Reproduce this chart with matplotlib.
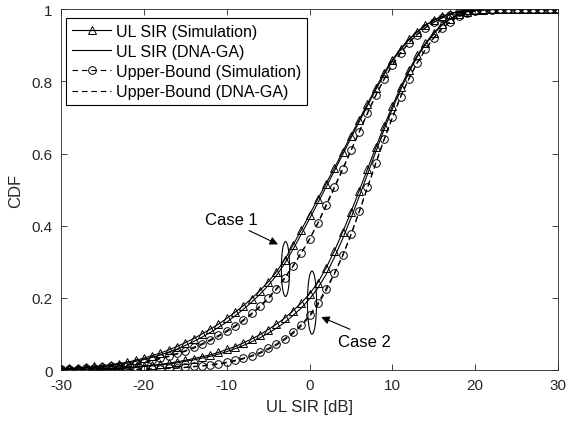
import matplotlib.pyplot as plt
import numpy as np
from matplotlib.patches import Ellipse

plt.rcParams['font.family'] = ['Liberation Sans', 'DejaVu Sans']
plt.rcParams['font.size'] = 10
plt.rcParams['axes.unicode_minus'] = False

# x axis: UL SIR in dB, one sample per dB
sir_db = np.arange(-30, 31)

# Case 1
ul_sim_1 = [0.004, 0.005, 0.006, 0.008, 0.010, 0.012, 0.015, 0.018, 0.022, 0.027,
            0.033, 0.040, 0.047, 0.056, 0.065, 0.076, 0.087, 0.100, 0.113, 0.127,
            0.143, 0.160, 0.178, 0.198, 0.220, 0.244, 0.272, 0.306, 0.346, 0.388,
            0.431, 0.474, 0.517, 0.560, 0.605, 0.650, 0.694, 0.738, 0.782, 0.824,
            0.860, 0.891, 0.917, 0.938, 0.956, 0.970, 0.980, 0.988, 0.994, 0.997,
            0.999, 1.0, 1.0, 1.0, 1.0, 1.0, 1.0, 1.0, 1.0, 1.0, 1.0]
ul_ga_1 = [0.003, 0.004, 0.005, 0.007, 0.008, 0.010, 0.013, 0.016, 0.019, 0.024,
           0.029, 0.035, 0.042, 0.050, 0.058, 0.068, 0.079, 0.091, 0.104, 0.118,
           0.133, 0.150, 0.168, 0.188, 0.210, 0.234, 0.262, 0.295, 0.334, 0.376,
           0.419, 0.463, 0.507, 0.552, 0.597, 0.643, 0.688, 0.733, 0.777, 0.819,
           0.856, 0.888, 0.915, 0.937, 0.955, 0.969, 0.980, 0.988, 0.993, 0.997,
           0.999, 1.0, 1.0, 1.0, 1.0, 1.0, 1.0, 1.0, 1.0, 1.0, 1.0]
ub_sim_1 = [0.002, 0.003, 0.004, 0.005, 0.006, 0.008, 0.010, 0.012, 0.015, 0.019,
            0.023, 0.028, 0.033, 0.039, 0.046, 0.054, 0.063, 0.073, 0.084, 0.096,
            0.109, 0.123, 0.139, 0.157, 0.177, 0.200, 0.226, 0.256, 0.289, 0.325,
            0.362, 0.408, 0.458, 0.508, 0.558, 0.609, 0.661, 0.713, 0.762, 0.806,
            0.845, 0.879, 0.907, 0.930, 0.949, 0.964, 0.976, 0.985, 0.991, 0.995,
            0.998, 0.999, 1.0, 1.0, 1.0, 1.0, 1.0, 1.0, 1.0, 1.0, 1.0]
ub_ga_1 = [0.002, 0.002, 0.003, 0.004, 0.005, 0.007, 0.009, 0.011, 0.014, 0.017,
           0.021, 0.026, 0.031, 0.037, 0.044, 0.052, 0.060, 0.070, 0.081, 0.093,
           0.106, 0.120, 0.136, 0.154, 0.174, 0.197, 0.223, 0.253, 0.287, 0.324,
           0.363, 0.406, 0.454, 0.504, 0.555, 0.607, 0.659, 0.711, 0.761, 0.806,
           0.845, 0.879, 0.907, 0.930, 0.949, 0.964, 0.976, 0.985, 0.991, 0.995,
           0.998, 0.999, 1.0, 1.0, 1.0, 1.0, 1.0, 1.0, 1.0, 1.0, 1.0]

# Case 2
ul_sim_2 = [0.001, 0.002, 0.002, 0.003, 0.003, 0.004, 0.005, 0.006, 0.007, 0.009,
            0.011, 0.013, 0.016, 0.019, 0.023, 0.027, 0.032, 0.037, 0.042, 0.049,
            0.057, 0.065, 0.075, 0.086, 0.098, 0.112, 0.127, 0.144, 0.164, 0.186,
            0.211, 0.242, 0.283, 0.330, 0.382, 0.438, 0.497, 0.557, 0.617, 0.676,
            0.732, 0.784, 0.831, 0.872, 0.906, 0.935, 0.958, 0.974, 0.986, 0.993,
            0.997, 0.999, 1.0, 1.0, 1.0, 1.0, 1.0, 1.0, 1.0, 1.0, 1.0]
ul_ga_2 = [0.001, 0.001, 0.002, 0.002, 0.003, 0.003, 0.004, 0.005, 0.006, 0.008,
           0.010, 0.012, 0.014, 0.017, 0.020, 0.024, 0.028, 0.033, 0.038, 0.044,
           0.051, 0.059, 0.068, 0.078, 0.089, 0.102, 0.116, 0.132, 0.151, 0.172,
           0.197, 0.227, 0.265, 0.312, 0.364, 0.421, 0.481, 0.543, 0.605, 0.666,
           0.724, 0.777, 0.826, 0.868, 0.903, 0.932, 0.956, 0.973, 0.985, 0.993,
           0.997, 0.999, 1.0, 1.0, 1.0, 1.0, 1.0, 1.0, 1.0, 1.0, 1.0]
ub_sim_2 = [0.001, 0.001, 0.001, 0.001, 0.001, 0.002, 0.002, 0.002, 0.002, 0.002,
            0.003, 0.003, 0.004, 0.005, 0.006, 0.008, 0.010, 0.012, 0.015, 0.018,
            0.022, 0.027, 0.033, 0.040, 0.049, 0.060, 0.072, 0.087, 0.105, 0.126,
            0.152, 0.185, 0.226, 0.268, 0.318, 0.376, 0.440, 0.507, 0.574, 0.640,
            0.700, 0.758, 0.808, 0.852, 0.889, 0.921, 0.947, 0.966, 0.980, 0.990,
            0.995, 0.998, 0.999, 1.0, 1.0, 1.0, 1.0, 1.0, 1.0, 1.0, 1.0]
ub_ga_2 = [0.001, 0.001, 0.001, 0.001, 0.001, 0.001, 0.001, 0.002, 0.002, 0.002,
           0.002, 0.003, 0.004, 0.004, 0.005, 0.007, 0.009, 0.011, 0.013, 0.016,
           0.020, 0.025, 0.031, 0.038, 0.046, 0.057, 0.069, 0.084, 0.101, 0.122,
           0.148, 0.180, 0.220, 0.266, 0.316, 0.374, 0.438, 0.505, 0.572, 0.638,
           0.699, 0.757, 0.807, 0.851, 0.888, 0.920, 0.946, 0.966, 0.980, 0.990,
           0.995, 0.998, 0.999, 1.0, 1.0, 1.0, 1.0, 1.0, 1.0, 1.0, 1.0]

labels = ['UL SIR (Simulation)', 'UL SIR (DNA-GA)',
          'Upper-Bound (Simulation)', 'Upper-Bound (DNA-GA)']

fig = plt.figure(figsize=(5.7, 4.27), dpi=100)
ax = fig.add_axes([0.107, 0.131, 0.872, 0.845])

lw = 0.8
dash = (5, 3.5)
sim_style = dict(color='k', lw=lw, marker='^', ms=5.5, mfc='none', mew=0.7)
ub_style = dict(color='k', lw=lw, ls='--', dashes=dash, marker='o', ms=5.5,
                mfc='none', mew=0.7)

h1, = ax.plot(sir_db, ul_sim_1, label=labels[0], **sim_style)
h2, = ax.plot(sir_db, ul_ga_1, 'k-', lw=lw, label=labels[1])
h3, = ax.plot(sir_db, ub_sim_1, label=labels[2], **ub_style)
h4, = ax.plot(sir_db, ub_ga_1, 'k--', dashes=dash, lw=lw, label=labels[3])

ax.plot(sir_db, ul_sim_2, **sim_style)
ax.plot(sir_db, ul_ga_2, 'k-', lw=lw)
ax.plot(sir_db, ub_sim_2, **ub_style)
ax.plot(sir_db, ub_ga_2, 'k--', dashes=dash, lw=lw)

# ellipses + arrows marking the two cases
ax.add_patch(Ellipse((-2.9, 0.28), 1.0, 0.152, fill=False, ec='k', lw=0.8))
ax.add_patch(Ellipse((0.3, 0.187), 1.1, 0.175, fill=False, ec='k', lw=0.8))
ax.annotate('', xy=(-3.5, 0.345), xytext=(-7.6, 0.39),
            arrowprops=dict(arrowstyle='-|>', color='k', lw=0.8,
                            mutation_scale=12))
ax.annotate('', xy=(1.1, 0.15), xytext=(5.2, 0.11),
            arrowprops=dict(arrowstyle='-|>', color='k', lw=0.8,
                            mutation_scale=12))
ax.text(-9.4, 0.418, 'Case 1', ha='center', va='center', fontsize=12)
ax.text(6.6, 0.08, 'Case 2', ha='center', va='center', fontsize=12)

ax.set_xlim(-30, 30)
ax.set_ylim(0, 1)
ax.set_xticks(np.arange(-30, 31, 10))
ax.set_yticks(np.arange(0, 1.01, 0.2))
ax.set_yticklabels(['0', '0.2', '0.4', '0.6', '0.8', '1'])
ax.tick_params(direction='in', top=True, right=True, length=4,
               width=0.6, colors='#262626', labelsize=11)
ax.tick_params(axis='x', pad=6)
ax.tick_params(axis='y', pad=6)
for s in ax.spines.values():
    s.set_color('#262626')
    s.set_linewidth(0.6)
ax.set_xlabel('UL SIR [dB]', color='#262626', fontsize=12, labelpad=5)
ax.set_ylabel('CDF', color='#262626', fontsize=12, labelpad=6)

leg = ax.legend(handles=[h1, h2, h3, h4], loc='upper left',
                bbox_to_anchor=(0.01, 0.975), fancybox=False,
                edgecolor='k', framealpha=1, fontsize=11.5,
                handlelength=2.5, handletextpad=0.3, labelspacing=0.32,
                borderpad=0.35, borderaxespad=0)
leg.get_frame().set_linewidth(0.8)

fig.savefig('out.png', dpi=100)
